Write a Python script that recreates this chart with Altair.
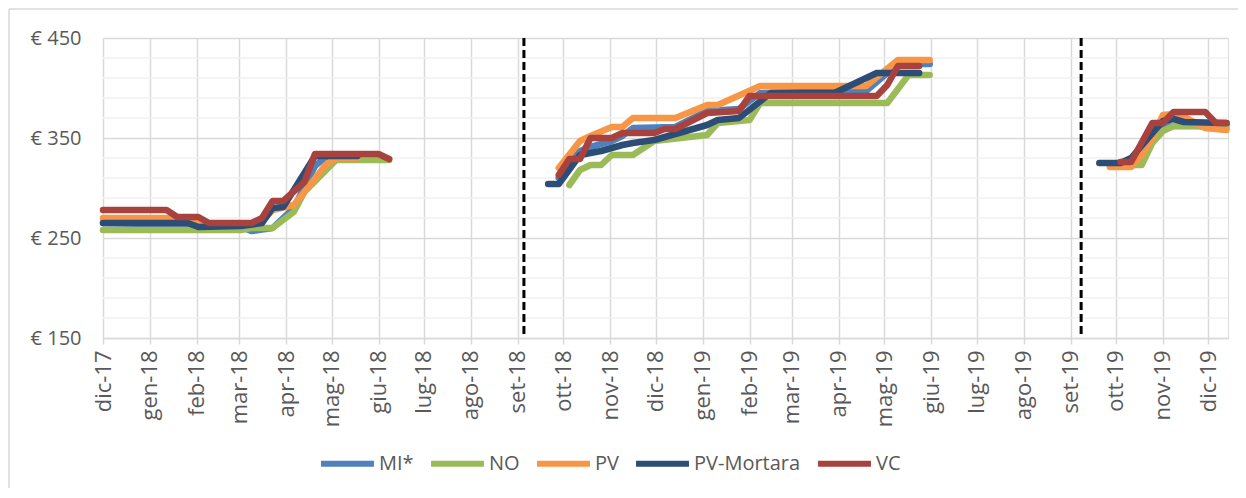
import altair as alt
import pandas as pd

SERIES = ["MI*", "NO", "PV", "PV-Mortara", "VC"]
COLORS = ["#4F81BD", "#9BBB59", "#F79646", "#2C4D75", "#A8423E"]
MONTHS_IT = ["gen", "feb", "mar", "apr", "mag", "giu", "lug", "ago", "set", "ott", "nov", "dic"]

# ---- MI* ----
mi_dates = ["2017-12-01", "2018-02-02", "2018-03-02", "2018-03-09", "2018-03-23", "2018-04-06", "2018-04-20",
            "2018-04-27", "2018-05-18",
            "2018-09-28", "2018-10-12", "2018-10-19", "2018-11-02", "2018-11-09", "2018-11-16", "2018-12-14",
            "2019-01-04", "2019-01-25", "2019-02-08", "2019-04-19", "2019-05-10", "2019-05-31",
            "2019-09-27", "2019-10-11", "2019-10-25", "2019-11-01", "2019-11-29", "2019-12-13"]
mi_vals = [265, 263, 261, 257, 260, 280, 322, 331, 331,
           310, 337, 341, 347, 352, 360, 361, 377, 379, 395, 397, 424, 424,
           323, 324, 350, 362, 362, 363]

# ---- NO ----
no_dates = ["2017-12-01", "2018-03-02", "2018-03-09", "2018-03-23", "2018-04-06", "2018-04-13", "2018-05-04",
            "2018-06-08",
            "2018-10-05", "2018-10-12", "2018-10-19", "2018-10-26", "2018-11-02", "2018-11-16", "2018-11-30",
            "2019-01-04", "2019-01-11", "2019-02-01", "2019-02-08", "2019-05-03", "2019-05-17", "2019-05-31",
            "2019-09-27", "2019-10-18", "2019-10-25", "2019-11-01", "2019-11-08", "2019-11-22", "2019-12-13"]
no_vals = [258, 258, 260, 260, 276, 296, 328, 328,
           303, 318, 323, 323, 333, 333, 347, 353, 365, 368, 385, 385, 413, 413,
           323, 323, 345, 357, 362, 362, 360]

# ---- PV ----
pv_dates = ["2017-12-01", "2018-01-12", "2018-01-19", "2018-02-02", "2018-02-09", "2018-03-09", "2018-03-16",
            "2018-03-23", "2018-04-06", "2018-04-13", "2018-04-27", "2018-05-04", "2018-05-18",
            "2018-09-28", "2018-10-12", "2018-10-19", "2018-11-02", "2018-11-09", "2018-11-16", "2018-12-14",
            "2019-01-04", "2019-01-11", "2019-02-08", "2019-04-19", "2019-05-10", "2019-05-31",
            "2019-09-27", "2019-10-11", "2019-10-18", "2019-10-25", "2019-11-01", "2019-11-08", "2019-11-15",
            "2019-11-29", "2019-12-13"]
pv_vals = [270, 270, 267, 266, 264, 264, 267, 278, 283, 296, 323, 330, 330,
           320, 347, 352, 361, 361, 370, 370, 383, 383, 402, 402, 428, 428,
           321, 321, 333, 350, 373, 374, 371, 360, 358]

# ---- PV-Mortara ----
pvm_dates = ["2017-12-01", "2018-01-26", "2018-02-02", "2018-03-02", "2018-03-16", "2018-03-23", "2018-03-30",
             "2018-04-20", "2018-05-18",
             "2018-09-21", "2018-09-28", "2018-10-12", "2018-10-26", "2018-11-09", "2018-11-16", "2018-11-30",
             "2019-01-04", "2019-01-11", "2019-01-25", "2019-02-15", "2019-03-29", "2019-04-26", "2019-05-24",
             "2019-09-20", "2019-10-04", "2019-10-11", "2019-11-01", "2019-11-08", "2019-11-15", "2019-12-13"]
pvm_vals = [265, 265, 261, 262, 265, 280, 281, 332, 332,
            304, 304, 333, 337, 343, 345, 348, 363, 368, 370, 395, 395, 415, 415,
            325, 325, 330, 367, 369, 366, 365]

# ---- VC ----
vc_dates = ["2017-12-01", "2018-01-12", "2018-01-19", "2018-02-02", "2018-02-09", "2018-03-09", "2018-03-16",
            "2018-03-23", "2018-03-30", "2018-04-13", "2018-04-20", "2018-06-01", "2018-06-08",
            "2018-09-28", "2018-10-05", "2018-10-12", "2018-10-19", "2018-11-02", "2018-11-09", "2018-11-30",
            "2018-12-07", "2018-12-14", "2019-01-04", "2019-01-25", "2019-02-01", "2019-04-26", "2019-05-03",
            "2019-05-10", "2019-05-24",
            "2019-10-04", "2019-10-11", "2019-10-25", "2019-11-01", "2019-11-08", "2019-11-29", "2019-12-06",
            "2019-12-13"]
vc_vals = [278, 278, 271, 271, 265, 265, 270, 287, 287, 306, 334, 334, 329,
           313, 329, 329, 350, 350, 355, 355, 359, 359, 375, 377, 392, 392, 403, 422, 422,
           326, 326, 365, 365, 376, 376, 365, 365]

# season separators (dashed lines)
sep_dates = ["2018-09-05", "2019-09-08"]

# axis
month_ticks = ["2017-12-01", "2018-01-01", "2018-02-01", "2018-03-01", "2018-04-01", "2018-05-01", "2018-06-01",
               "2018-07-01", "2018-08-01", "2018-09-01", "2018-10-01", "2018-11-01", "2018-12-01", "2019-01-01",
               "2019-02-01", "2019-03-01", "2019-04-01", "2019-05-01", "2019-06-01", "2019-07-01", "2019-08-01",
               "2019-09-01", "2019-10-01", "2019-11-01", "2019-12-01"]
x_start, x_end = "2017-12-01", "2019-12-14"
y_major = [150, 250, 350, 450]
y_minor = [170, 190, 210, 230, 270, 290, 310, 330, 370, 390, 410, 430]


def ms(s):
    return int(pd.Timestamp(s, tz="UTC").timestamp() * 1000)


rows = []
for name, ds, vs in [("MI*", mi_dates, mi_vals), ("NO", no_dates, no_vals), ("PV", pv_dates, pv_vals),
                     ("PV-Mortara", pvm_dates, pvm_vals), ("VC", vc_dates, vc_vals)]:
    for d, v in zip(ds, vs):
        seg = 1 if d < "2018-09-01" else (2 if d < "2019-09-01" else 3)
        rows.append({"date": d, "price": v, "serie": name, "key": f"{name}-{seg}"})
df = pd.DataFrame(rows)

FONT = "Open Sans"
GRAY = "#595959"
GRID = "#d9d9d9"

xscale = alt.Scale(type="utc", domain=[ms(x_start), ms(x_end)], nice=False)
yscale = alt.Scale(domain=[150, 450], nice=False, zero=False)

label_expr = "[" + ",".join(f"'{m}'" for m in MONTHS_IT) + "][utcmonth(datum.value)] + '-' + utcFormat(datum.value, '%y')"

minor = alt.Chart(pd.DataFrame({"y": y_minor})).mark_rule(color="#f0f0f0", strokeWidth=1.5).encode(
    y=alt.Y("y:Q", scale=yscale)
)

lines = alt.Chart(df).mark_line(strokeWidth=6.5, strokeCap="round", strokeJoin="round").encode(
    x=alt.X("date:T", scale=xscale, title=None,
            axis=alt.Axis(values=[ms(m) for m in month_ticks], labelExpr=label_expr, labelAngle=270,
                          labelFont=FONT, labelFontSize=22, labelColor=GRAY, labelPadding=6,
                          tickSize=6, tickColor=GRID, tickWidth=1.5, domainColor=GRID, domainWidth=1.5,
                          grid=True, gridColor=GRID, gridWidth=1.5, labelOverlap=False)),
    y=alt.Y("price:Q", scale=yscale, title=None,
            axis=alt.Axis(values=y_major, labelExpr="'€ ' + datum.value", labelFont=FONT, labelFontSize=20,
                          labelColor=GRAY, labelPadding=22, ticks=False, domain=False,
                          grid=True, gridColor=GRID, gridWidth=1.5)),
    color=alt.Color("serie:N", scale=alt.Scale(domain=SERIES, range=COLORS), sort=SERIES,
                    legend=alt.Legend(title=None, orient="none", legendX=215, legendY=396,
                                      direction="horizontal", symbolType="stroke", symbolSize=2800,
                                      symbolStrokeWidth=6, labelFont=FONT, labelFontSize=20,
                                      labelColor=GRAY, columnPadding=5, labelOffset=2)),
    detail="key:N",
    order="date:T",
)

seps = alt.Chart(pd.DataFrame({"date": sep_dates, "top": [450, 450], "bottom": [150, 150]})).mark_rule(
    color="black", strokeWidth=3, strokeDash=[8, 4]
).encode(
    x=alt.X("date:T", scale=xscale),
    y=alt.Y("top:Q", scale=yscale),
    y2="bottom:Q",
)

frame_left = alt.Chart(pd.DataFrame({"a": [0]})).mark_rule(color=GRID, strokeWidth=1.5).encode(
    x=alt.value(-94), y=alt.value(-29), y2=alt.value(460)
)
frame_top = alt.Chart(pd.DataFrame({"a": [0]})).mark_rule(color=GRID, strokeWidth=1.5).encode(
    x=alt.value(-94), x2=alt.value(1135), y=alt.value(-29)
)

chart = alt.layer(minor, lines, seps, frame_left, frame_top).properties(
    width=1125, height=300,
    autosize=alt.AutoSizeParams(type="none"),
    padding={"left": 95, "top": 30, "right": 10, "bottom": 150},
).configure_view(stroke=None).configure(background="white")

chart.save("out.html", embed_options={"renderer": "svg", "actions": False})
